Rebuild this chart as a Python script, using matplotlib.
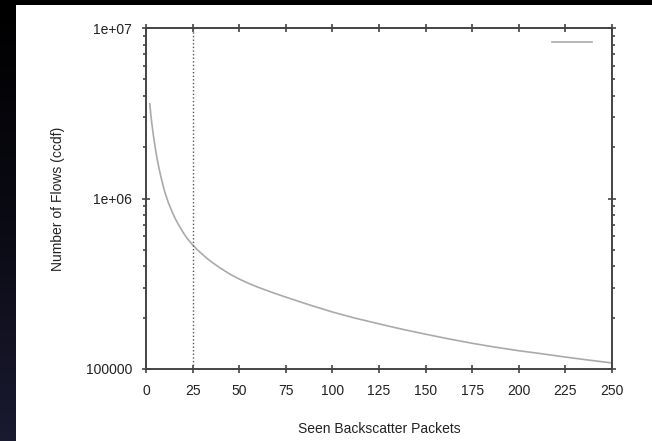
import numpy as np
import matplotlib
matplotlib.use("Agg")
import matplotlib.pyplot as plt
from matplotlib.patches import Rectangle
from matplotlib.colors import LinearSegmentedColormap
from matplotlib.ticker import FixedLocator, LogLocator, NullFormatter, FixedFormatter

# Data
packets = [2, 3, 4, 5, 6, 7, 8, 9, 10, 12, 14, 16, 18, 20, 22, 25, 28, 32, 36, 40,
           45, 50, 55, 60, 67, 75, 87, 100, 112, 125, 137, 150, 162, 175, 187, 200,
           212, 225, 237, 250]
flows = [3.6e6, 2.82e6, 2.33e6, 1.97e6, 1.7e6, 1.5e6, 1.34e6, 1.21e6, 1.1e6, 9.45e5,
         8.35e5, 7.5e5, 6.85e5, 6.3e5, 5.85e5, 5.35e5, 4.95e5, 4.52e5, 4.18e5, 3.9e5,
         3.6e5, 3.37e5, 3.18e5, 3.02e5, 2.83e5, 2.64e5, 2.39e5, 2.16e5, 1.99e5, 1.84e5,
         1.715e5, 1.6e5, 1.505e5, 1.415e5, 1.345e5, 1.28e5, 1.23e5, 1.175e5, 1.13e5, 1.085e5]
threshold = 25
x_ticks = [0, 25, 50, 75, 100, 125, 150, 175, 200, 225, 250]
y_ticks = [1e5, 1e6, 1e7]
y_tick_labels = ["100000", "1e+06", "1e+07"]

plt.rcParams['font.family'] = ['Liberation Sans', 'DejaVu Sans']

W, H = 652, 441
fig = plt.figure(figsize=(W / 100, H / 100), dpi=100, facecolor='black')

# dark slide background gradient on the left strip
bg = fig.add_axes([0, 0, 1, 1], zorder=-10)
bg.set_axis_off()
grad = np.linspace(0, 1, 256).reshape(-1, 1)
cmap = LinearSegmentedColormap.from_list('slide', ['#000000', '#0a0a14', '#1a1a30'])
bg.imshow(grad, aspect='auto', cmap=cmap, extent=[0, 1, 0, 1], origin='upper')
bg.set_xlim(0, 1)
bg.set_ylim(0, 1)
bg.add_patch(Rectangle((16 / W, 0), 1 - 16 / W, 1 - 5 / H, facecolor='white',
                       edgecolor='none', transform=bg.transAxes))

ax = fig.add_axes([146 / W, (H - 369) / H, (612 - 146) / W, (369 - 28) / H])
ax.set_facecolor('white')

line, = ax.plot(packets, flows, color='#aaaaaa', lw=1.2)
ax.axvline(threshold, color='#555555', lw=1.0, linestyle=(0, (1, 1.6)))

ax.set_yscale('log')
ax.set_xlim(0, 250)
ax.set_ylim(1e5, 1e7)

ax.xaxis.set_major_locator(FixedLocator(x_ticks))
ax.yaxis.set_major_locator(FixedLocator(y_ticks))
ax.yaxis.set_major_formatter(FixedFormatter(y_tick_labels))
ax.yaxis.set_minor_locator(LogLocator(base=10, subs=np.arange(2, 10)))
ax.yaxis.set_minor_formatter(NullFormatter())

for s in ax.spines.values():
    s.set_color('#444444')
    s.set_linewidth(1.4)

ax.tick_params(axis='both', which='major', direction='inout', length=6, width=1.2,
               color='#444444', labelsize=10, labelcolor='#222222',
               top=True, right=True)
ax.tick_params(axis='y', which='minor', direction='out', length=2.5, width=1.2,
               color='#444444', right=True, left=True)
ax.tick_params(axis='x', which='major', pad=8)
ax.tick_params(axis='y', which='major', pad=7)

ax.set_xlabel('Seen Backscatter Packets', fontsize=10, color='#222222', labelpad=17)
ax.set_ylabel('Number of Flows (ccdf)', fontsize=10, color='#222222', labelpad=15)

ax.legend([line], [''], loc='upper right', frameon=False, handlelength=2.9,
          handletextpad=0, borderaxespad=0.2, bbox_to_anchor=(0.975, 1.0))

fig.savefig('out.png', dpi=100, facecolor=fig.get_facecolor())
